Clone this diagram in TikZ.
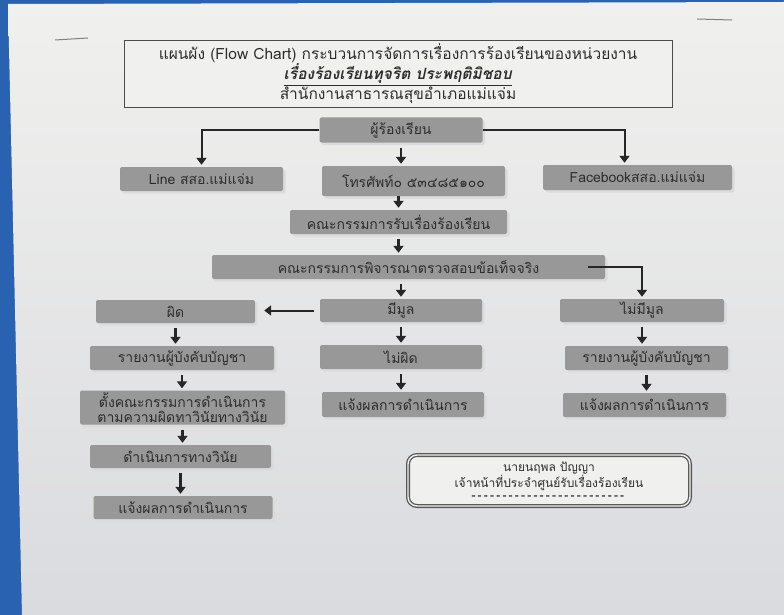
\documentclass[tikz,border=0pt]{standalone}
\usepackage{fontspec}
\setmainfont{Loma}[Script=Thai]
\usepackage{xcolor}
\usetikzlibrary{arrows.meta}
\usetikzlibrary{shadows}
\definecolor{deskblue}{RGB}{40,98,176}
\definecolor{papertop}{RGB}{240,240,238}
\definecolor{paperbot}{RGB}{218,219,223}
\definecolor{boxgray}{RGB}{152,152,152}
\definecolor{inkgray}{RGB}{45,45,45}
\newcommand{\dashrow}{\foreach \k in {1,...,25}{\textbf{-}\kern2.2pt}}
\tikzset{
  flowbox/.style={fill=boxgray, rounded corners=2pt, text=inkgray, inner sep=0pt,
    font=\fontsize{14}{16}\selectfont,
    drop shadow={shadow xshift=2.5pt, shadow yshift=-2.5pt, fill=gray!28, opacity=1}},
  arr/.style={line width=2.4pt, draw=black!85, -{Triangle[length=7pt,width=10pt]},
    shorten <=5pt, shorten >=2pt},
}

\begin{document}
\begin{tikzpicture}[x=1pt,y=-1pt]
\useasboundingbox (0,0) rectangle (784,615);
% photo background and the sheet
\fill[deskblue] (0,0) rectangle (784,615);
\shade[top color=papertop, bottom color=paperbot] (8,4) -- (784,2) -- (784,615) -- (22,615) -- cycle;
\draw[gray, line width=1pt] (55,40) -- (88,38);
\draw[gray, line width=1pt] (697,19) -- (732,20);

% heading
\node[draw=black!70, fill=papertop, minimum width=548, minimum height=63, text=inkgray,
  align=center, font=\fontsize{15.5}{18.5}\selectfont] (heading) at (398,73.5)
  {แผนผัง (Flow Chart) กระบวนการจัดการเรื่องการร้องเรียนของหน่วยงาน\\
   \underline{\textbf{\textit{เรื่องร้องเรียนทุจริต ประพฤติมิชอบ}}}\\
   สำนักงานสาธารณสุขอำเภอแม่แจ่ม};

% boxes
\node[flowbox, minimum width=163, minimum height=25] (complainant) at (401,130) {ผู้ร้องเรียน};
\node[flowbox, minimum width=163, minimum height=24] (line) at (201.5,179) {Line สสอ.แม่แจ่ม};
\node[flowbox, minimum width=183, minimum height=30] (phone) at (413.5,181) {โทรศัพท์๐ ๕๓๔๘๕๑๐๐};
\node[flowbox, minimum width=189, minimum height=25] (facebook) at (637.5,177.5) {Facebookสสอ.แม่แจ่ม};
\node[flowbox, minimum width=217, minimum height=24] (receive) at (398.5,222) {คณะกรรมการรับเรื่องร้องเรียน};
\node[flowbox, minimum width=393, minimum height=24] (judge) at (408.5,267) {คณะกรรมการพิจารณาตรวจสอบข้อเท็จจริง};
\node[flowbox, minimum width=159, minimum height=23] (guilty) at (175.5,311.5) {ผิด};
\node[flowbox, minimum width=162, minimum height=23] (grounded) at (401,310.5) {มีมูล};
\node[flowbox, minimum width=164, minimum height=23] (ungrounded) at (642,310.5) {ไม่มีมูล};
\node[flowbox, minimum width=184, minimum height=24] (reportL) at (182,358) {รายงานผู้บังคับบัญชา};
\node[flowbox, minimum width=162, minimum height=24] (innocent) at (401,357) {ไม่ผิด};
\node[flowbox, minimum width=163, minimum height=24] (reportR) at (646.5,358) {รายงานผู้บังคับบัญชา};
\node[flowbox, minimum width=205, minimum height=34, align=center,
  font=\fontsize{14}{15.5}\selectfont] (appoint) at (182.5,407.5)
  {ตั้งคณะกรรมการดำเนินการ\\ตามความผิดทาวินัยทางวินัย};
\node[flowbox, minimum width=162, minimum height=25] (informM) at (403,404.5) {แจ้งผลการดำเนินการ};
\node[flowbox, minimum width=163, minimum height=24] (informR) at (644.5,405) {แจ้งผลการดำเนินการ};
\node[flowbox, minimum width=181, minimum height=23] (discipline) at (180.5,456.5) {ดำเนินการทางวินัย};
\node[flowbox, minimum width=179, minimum height=23] (informL) at (183,507.5) {แจ้งผลการดำเนินการ};

% signature
\node[draw=black!65, line width=1.3pt, double=papertop, double distance=1.4pt, rounded corners=9pt,
  fill=papertop, minimum width=282, minimum height=51, align=center, text=inkgray,
  font=\fontsize{12}{12.5}\selectfont] (sign) at (549,480.5)
  {นายนฤพล ปัญญา\\เจ้าหน้าที่ประจำศูนย์รับเรื่องร้องเรียน\\\dashrow};

% arrows
\draw[arr, line width=2pt, shorten <=0pt] (complainant.west) -| (line.north);
\draw[arr, line width=2pt, shorten <=0pt] (complainant.east) -| ([xshift=-13pt]facebook.north);
\draw[arr] (complainant.south) -- (complainant.south |- phone.north);
\draw[arr, shorten <=0pt] (receive.north |- phone.south) -- (receive.north);
\draw[arr] (receive.south) -- (receive.south |- judge.north);
\draw[arr] (grounded.north |- judge.south) -- (grounded.north);
\draw[arr, line width=2pt, shorten <=0pt] ([xshift=-17pt]judge.east) -| (ungrounded.north);
\draw[arr, line width=2pt, shorten <=6pt, shorten >=9pt] (grounded.west) -- (grounded.west -| guilty.east);
\draw[arr] (guilty.south) -- (guilty.south |- reportL.north);
\draw[arr] (reportL.south) -- (reportL.south |- appoint.north);
\draw[arr] (appoint.south) -- (appoint.south |- discipline.north);
\draw[arr] (discipline.south) -- (discipline.south |- informL.north);
\draw[arr] (grounded.south) -- (grounded.south |- innocent.north);
\draw[arr] (innocent.south) -- (innocent.south |- informM.north);
\draw[arr] (ungrounded.south) -- (ungrounded.south |- reportR.north);
\draw[arr] (reportR.south) -- (reportR.south |- informR.north);
\end{tikzpicture}
\end{document}
